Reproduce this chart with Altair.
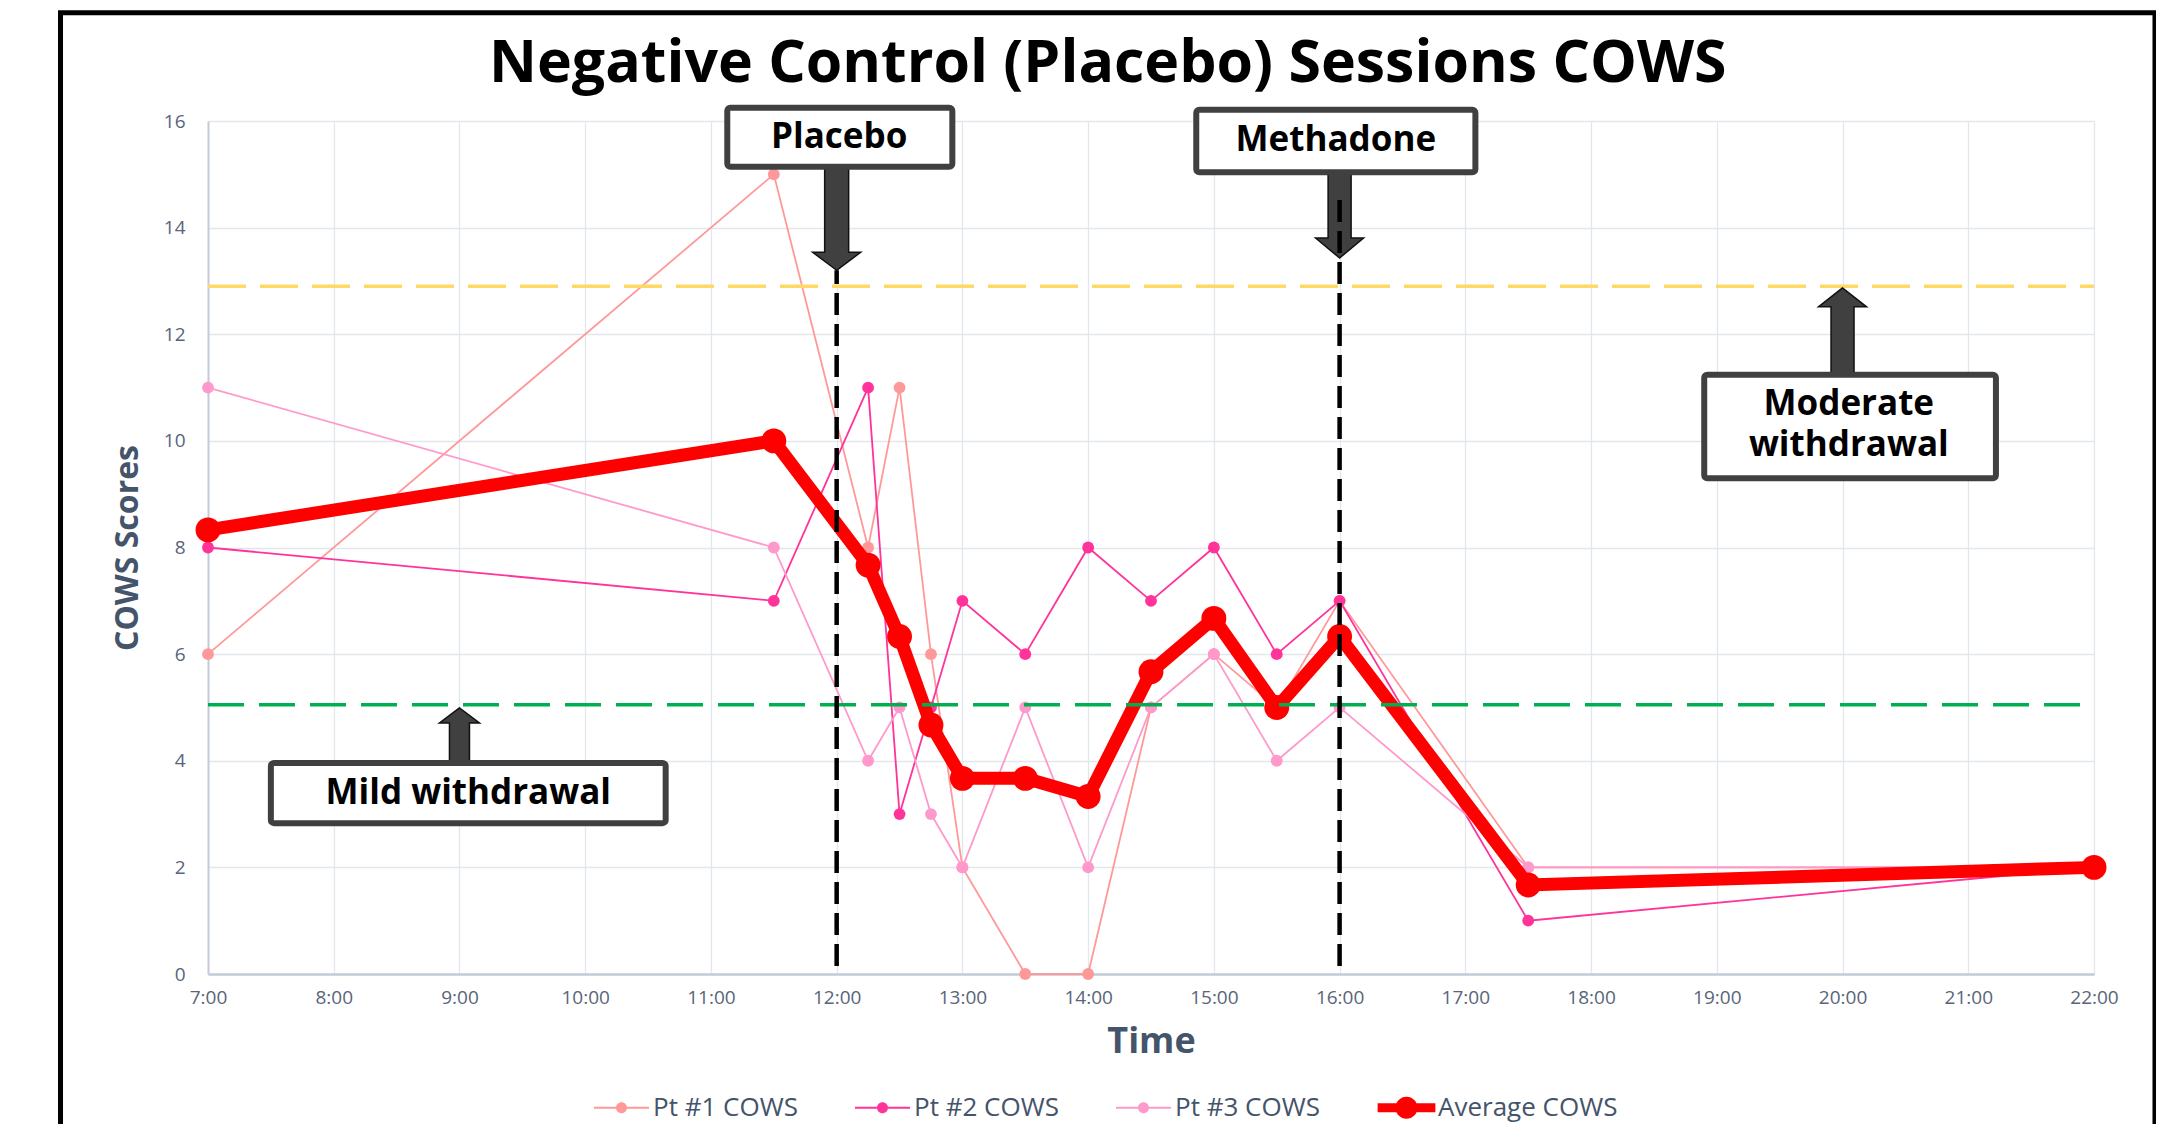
import altair as alt
import pandas as pd

# ---------------- data ----------------
times = ["7:00", "11:30", "12:15", "12:30", "12:45", "13:00", "13:30",
         "14:00", "14:30", "15:00", "15:30", "16:00", "17:30", "22:00"]
pt1 = [6, 15, 8, 11, 6, 2, 0, 0, 5, 6, 5, 7, 2, 2]
pt2 = [8, 7, 11, 3, 5, 7, 6, 8, 7, 8, 6, 7, 1, 2]
pt3 = [11, 8, 4, 5, 3, 2, 5, 2, 5, 6, 4, 5, 2, 2]
avg = [8.33, 10, 7.67, 6.33, 4.67, 3.67, 3.67, 3.33, 5.67, 6.67, 5, 6.33, 1.67, 2]

series_names = ["Pt #1 COWS", "Pt #2 COWS", "Pt #3 COWS", "Average COWS"]
series_colors = ["#FF9999", "#FF3399", "#FF99CC", "#FF0000"]

x_ticks = list(range(7, 23))
y_ticks = list(range(0, 17, 2))

title_text = "Negative Control (Placebo) Sessions COWS"

mild_level = 5.05
moderate_level = 12.9

event_times = ["12:00", "16:00"]
event_tops = [13.2, 14.55]
event_bottom = 0.15

box_text = ["Placebo", "Methadone", "Moderate\nwithdrawal", "Mild withdrawal"]
box_x0 = [11.13, 14.86, 18.90, 7.50]
box_x1 = [12.92, 17.08, 21.22, 10.64]
box_top = [16.25, 16.21, 11.24, 3.96]
box_bottom = [15.14, 15.04, 9.30, 2.83]
label_x = [12.02, 15.97, 20.05, 9.07]
label_y = [15.70, 15.64, 10.70, 3.39]

arrow_times = ["12:00", "16:00", "20:00", "9:00"]
arrow_tips = [13.2, 13.43, 12.87, 4.99]
arrow_dirs = ["down", "down", "up", "up"]
# arrow geometry in pixels: total length, head height, head half width, shaft half width
arrow_len = [103, 86, 87, 55]
arrow_head_h = [18, 20, 19, 15]
arrow_head_w = [24, 24, 24, 20]
arrow_shaft_w = [12, 11.5, 11.5, 10]


def to_hour(s):
    h, m = s.split(":")
    return int(h) + int(m) / 60.0


K = 50.0  # px per shape unit (size = (2K)^2)


def arrow_path(direction, L, hh, hw, sw):
    s = -1 if direction == "down" else 1
    pts = [(0, 0), (-hw, s * hh), (-sw, s * hh), (-sw, s * L),
           (sw, s * L), (sw, s * hh), (hw, s * hh)]
    return "M" + " L".join(f"{x / K:.4f},{y / K:.4f}" for x, y in pts) + " Z"


hours = [to_hour(t) for t in times]
rows = []
for name, vals in zip(series_names, [pt1, pt2, pt3, avg]):
    for h, v in zip(hours, vals):
        rows.append({"series": name, "hour": h, "value": v})
df = pd.DataFrame(rows)
df_pt = df[df.series != "Average COWS"]
df_avg = df[df.series == "Average COWS"]

xs = alt.Scale(domain=[7, 22], nice=False, zero=False)
ys = alt.Scale(domain=[0, 16], nice=False, zero=True)

# legend glyphs: line with a dot (filled shapes only)
PT_SYM = ("M-1,-0.035L1,-0.035L1,0.035L-1,0.035Z"
          "M-0.2,0A0.2,0.2 0 1,1 0.2,0A0.2,0.2 0 1,1 -0.2,0Z")
AVG_SYM = ("M-1.05,-0.16L1.05,-0.16L1.05,0.16L-1.05,0.16Z"
           "M-0.4,0A0.4,0.4 0 1,1 0.4,0A0.4,0.4 0 1,1 -0.4,0Z")

legend = alt.Legend(
    orient="none", legendX=386, legendY=959, direction="horizontal", title=None,
    symbolSize=3025, symbolStrokeWidth=0,
    symbolType={"expr": f"datum.value === 'Average COWS' ? '{AVG_SYM}' : '{PT_SYM}'"},
    labelFont="Open Sans", labelFontSize=26, labelColor="#44546A", labelLimit=500,
    labelOffset=4, columnPadding=57, padding=0,
)

cscale = alt.Scale(domain=series_names, range=series_colors)
color = alt.Color("series:N", scale=cscale, legend=legend)

ax_x = alt.Axis(
    values=x_ticks, labelExpr="datum.value + ':00'", grid=True,
    gridColor="#E2E6ED", gridWidth=1.3, domainColor="#C3CBD8", domainWidth=2.5,
    ticks=False, tickSize=0, labelPadding=14, labelFlush=False, labelOverlap=False,
    labelFont="Open Sans", labelFontSize=19, labelColor="#596579",
    title="Time", titleFont="Open Sans", titleFontSize=36, titleFontWeight="bold",
    titleColor="#44546A", titleX=943, titleY=78, titleBaseline="alphabetic",
    titleAlign="center")
ax_y = alt.Axis(
    values=y_ticks, grid=True, gridColor="#E2E6ED", gridWidth=1.3,
    domainColor="#C3CBD8", domainWidth=2, ticks=False, tickSize=0, labelPadding=23,
    labelFlush=False, labelOverlap=False,
    labelFont="Open Sans", labelFontSize=19, labelColor="#596579",
    title="COWS Scores", titleFont="Open Sans", titleFontSize=32, titleFontWeight="bold",
    titleColor="#44546A", titleX=-71, titleY=426.5, titleAngle=270,
    titleBaseline="alphabetic", titleAlign="center")


def X(f):
    return alt.X(f, scale=xs, axis=ax_x)


def Y(f):
    return alt.Y(f, scale=ys, axis=ax_y)


lines_pt = alt.Chart(df_pt).mark_line(strokeWidth=1.8).encode(
    x=X("hour:Q"), y=Y("value:Q"), color=color)
points_pt = alt.Chart(df_pt).mark_circle(size=140, opacity=1).encode(
    x=X("hour:Q"), y=Y("value:Q"), color=color)
line_avg = alt.Chart(df_avg).mark_line(strokeWidth=13).encode(
    x=X("hour:Q"), y=Y("value:Q"), color=color)
points_avg = alt.Chart(df_avg).mark_circle(size=620, opacity=1).encode(
    x=X("hour:Q"), y=Y("value:Q"), color=color)

# horizontal withdrawal thresholds
hl = pd.DataFrame({"hour": [7, 7], "value": [mild_level, moderate_level], "x1": [22, 22]})
rule_mild = alt.Chart(hl.iloc[[0]]).mark_rule(
    color="#00B050", strokeWidth=3.5, strokeDash=[36, 15]).encode(
    y=Y("value:Q"), x=X("hour:Q"), x2="x1:Q")
rule_mod = alt.Chart(hl.iloc[[1]]).mark_rule(
    color="#FFD966", strokeWidth=3.5, strokeDash=[38, 14]).encode(
    y=Y("value:Q"), x=X("hour:Q"), x2="x1:Q")

# arrows
arr = pd.DataFrame({
    "hour": [to_hour(t) for t in arrow_times],
    "value": arrow_tips,
    "path": [arrow_path(d, L, hh, hw, sw) for d, L, hh, hw, sw in
             zip(arrow_dirs, arrow_len, arrow_head_h, arrow_head_w, arrow_shaft_w)],
})
arrows = alt.Chart(arr).mark_point(
    filled=True, fill="#404040", stroke="#111111", strokeWidth=1.5, opacity=1,
    size=(2 * K) ** 2).encode(
    x=X("hour:Q"), y=Y("value:Q"), shape=alt.Shape("path:N", scale=None))

# vertical event lines
ev = pd.DataFrame({"hour": [to_hour(t) for t in event_times],
                   "top": event_tops, "value": [event_bottom] * 2})
vlines = alt.Chart(ev).mark_rule(
    color="black", strokeWidth=4.5, strokeDash=[22, 9]).encode(
    x=X("hour:Q"), y=Y("value:Q"), y2="top:Q")

# annotation boxes
bx = pd.DataFrame({"hour": box_x0, "x1": box_x1, "value": box_top, "bottom": box_bottom,
                   "text": box_text})
boxes = alt.Chart(bx).mark_rect(
    fill="white", stroke="#404040", strokeWidth=6, cornerRadius=3).encode(
    x=X("hour:Q"), x2="x1:Q", y=Y("value:Q"), y2="bottom:Q")
bl = pd.DataFrame({"hour": label_x, "value": label_y, "text": box_text})
box_labels = alt.Chart(bl).mark_text(
    font="Open Sans", fontWeight="bold", fontSize=35, color="black",
    align="center", baseline="middle", lineBreak="\n", lineHeight=41).encode(
    x=X("hour:Q"), y=Y("value:Q"), text="text:N")

# outer frame and title
frame = alt.Chart(pd.DataFrame({"hour": [5.827], "x1": [22.485],
                                "value": [18.03], "y1": [-4.0]})).mark_rect(
    filled=False, stroke="black", strokeWidth=5).encode(
    x=X("hour:Q"), x2="x1:Q", y=Y("value:Q"), y2="y1:Q")
title = alt.Chart(pd.DataFrame({"hour": [14.156], "value": [16.73], "t": [title_text]})).mark_text(
    font="Open Sans", fontWeight="bold", fontSize=59, color="black",
    align="center", baseline="alphabetic").encode(
    x=X("hour:Q"), y=Y("value:Q"), text="t:N")

chart = alt.layer(
    lines_pt, points_pt, line_avg, points_avg, rule_mild, rule_mod,
    arrows, vlines, boxes, box_labels, frame, title
).properties(
    width=1886, height=853,
    padding={"left": 200, "top": 113, "right": 62, "bottom": 150},
    autosize=alt.AutoSizeParams(type="none"),
    background="white",
).configure_view(stroke=None)

chart.save("out.html", embed_options={"renderer": "svg", "actions": False})
